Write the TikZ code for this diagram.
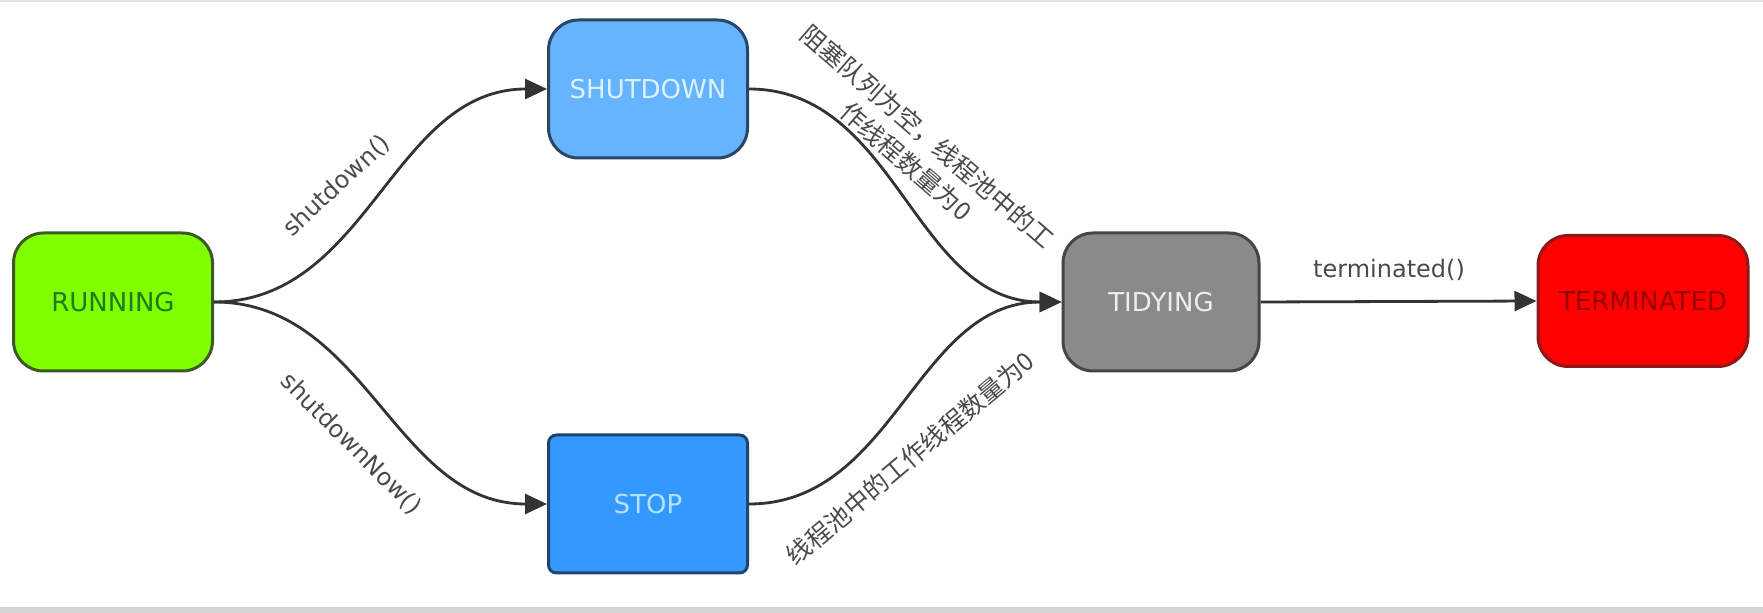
\documentclass[tikz,border=0pt]{standalone}
\usepackage{fontspec}
\setmainfont{DejaVu Sans}
\newfontfamily\cjk{Noto Sans CJK SC}
\usetikzlibrary{arrows.meta}

\definecolor{runfill}{HTML}{80FF00}
\definecolor{rundraw}{HTML}{3B5A26}
\definecolor{runtext}{HTML}{1E7A1E}
\definecolor{shutfill}{HTML}{66B3FF}
\definecolor{shutdraw}{HTML}{284868}
\definecolor{shuttext}{HTML}{D8F2FF}
\definecolor{stopfill}{HTML}{3399FF}
\definecolor{stopdraw}{HTML}{1F4470}
\definecolor{stoptext}{HTML}{B5E2FF}
\definecolor{tidyfill}{HTML}{8A8A8A}
\definecolor{tidydraw}{HTML}{454545}
\definecolor{tidytext}{HTML}{EEEEEE}
\definecolor{termfill}{HTML}{FF0000}
\definecolor{termdraw}{HTML}{8C1A1A}
\definecolor{termtext}{HTML}{9A0000}
\definecolor{edgegray}{HTML}{333333}
\definecolor{lblgray}{HTML}{4A4A4A}
\definecolor{barcol}{HTML}{D4D4D4}

\begin{document}
\begin{tikzpicture}[x=0.5pt,y=-0.5pt,
  state/.style={draw,line width=1.5pt,rounded corners=15pt,minimum width=99.5pt,
    minimum height=69pt,inner sep=0pt,font={\fontsize{13pt}{15pt}\selectfont}},
  trans/.style={draw=edgegray,line width=1.4pt,-{Triangle[length=11pt,width=10pt]}},
  lbl/.style={text=lblgray,inner sep=0pt,font={\fontsize{12pt}{14pt}\selectfont}},
  cjklbl/.style={text=lblgray,inner sep=0pt,align=center,
    font={\cjk\fontsize{12.5pt}{16.5pt}\selectfont}}]
  \useasboundingbox (0,0) rectangle (1763,613);
  \fill[white] (0,0) rectangle (1763,613);
  \fill[barcol] (0,607) rectangle (1763,613);
  \fill[barcol!60] (0,0) rectangle (1763,2);

  % states
  \node[state,fill=runfill,draw=rundraw,text=runtext] (run) at (113,302) {RUNNING};
  \node[state,fill=shutfill,draw=shutdraw,text=shuttext] (shut) at (648,89) {SHUTDOWN};
  \node[state,fill=stopfill,draw=stopdraw,text=stoptext,rounded corners=4pt] (stop) at (648,504) {STOP};
  \node[state,fill=tidyfill,draw=tidydraw,text=tidytext,minimum width=98pt] (tidy) at (1161,302) {TIDYING};
  \node[state,fill=termfill,draw=termdraw,text=termtext,minimum width=105pt,
    minimum height=65.5pt] (term) at (1643,301) {TERMINATED};

  % transitions
  \draw[trans] (run.east) to[out=0,in=180] (shut.west);
  \draw[trans] (run.east) to[out=0,in=180] (stop.west);
  \draw[trans] (shut.east) to[out=0,in=180] (tidy.west);
  \draw[trans] (stop.east) to[out=0,in=180] (tidy.west);
  \draw[trans] (tidy.east) -- (term.west);

  % labels
  \node[lbl,rotate=43] (lshut) at (337,186) {shutdown()};
  \node[lbl,rotate=-45] (lnow) at (351,444) {shutdownNow()};
  \node[lbl] (lterm) at (1389,270) {terminated()};
  \node[cjklbl,rotate=-41] (lempty) at (917,149) {阻塞队列为空，线程池中的工\\作线程数量为0};
  \node[cjklbl,rotate=40] (lzero) at (910,458) {线程池中的工作线程数量为0};
\end{tikzpicture}
\end{document}
